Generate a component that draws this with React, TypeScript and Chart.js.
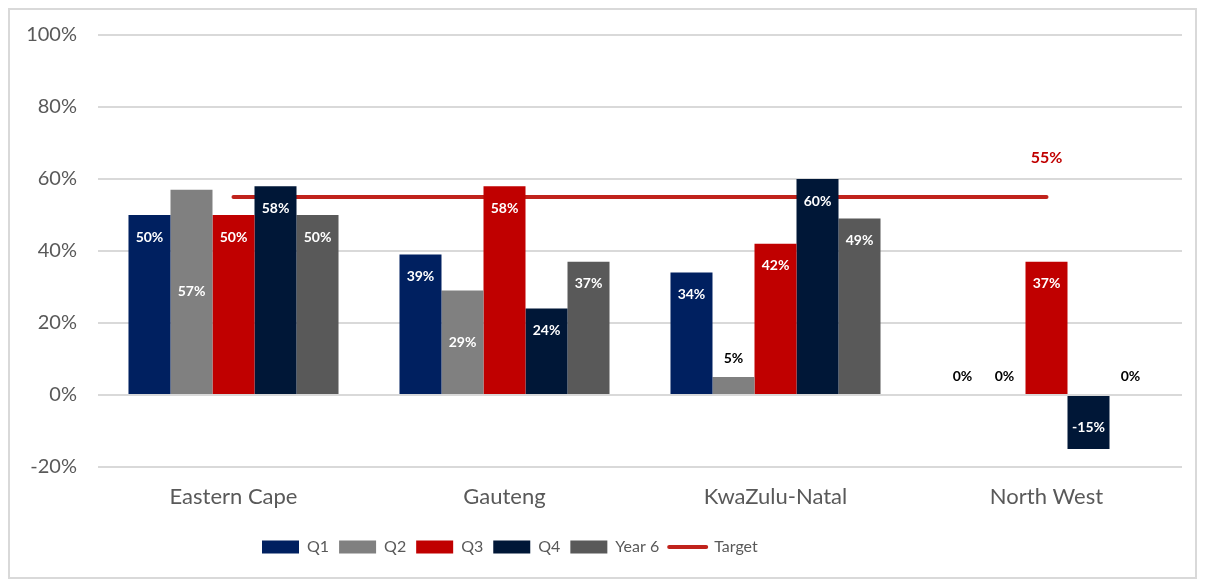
import React, { useEffect, useRef } from "react";
import { Chart, registerables } from "chart.js";

Chart.register(...registerables);

const categories = ["Eastern Cape", "Gauteng", "KwaZulu-Natal", "North West"];
const q1 = [50, 39, 34, 0];
const q2 = [57, 29, 5, 0];
const q3 = [50, 58, 42, 37];
const q4 = [58, 24, 60, -15];
const year6 = [50, 37, 49, 0];
const target = [55, 55, 55, 55];
const yTicks = [-20, 0, 20, 40, 60, 80, 100];

const seriesNames = ["Q1", "Q2", "Q3", "Q4", "Year 6", "Target"];
const colors = ["#002060", "#808080", "#C00000", "#001737", "#595959", "#C0231C"];
const labelAnchor = ["end", "center", "end", "end", "end"];

const FONT = "Lato, 'Gill Sans', 'Open Sans', sans-serif";

const labelPlugin = {
  id: "barLabels",
  afterLayout(chart: any) {
    if (chart.legend) {
      chart.legend.left = 242;
    }
  },
  afterDatasetsDraw(chart: any) {
    const ctx = chart.ctx;
    ctx.save();
    ctx.textAlign = "center";
    ctx.textBaseline = "middle";
    chart.data.datasets.forEach((ds: any, di: number) => {
      const meta = chart.getDatasetMeta(di);
      if (ds.type === "line") {
        const last = meta.data[meta.data.length - 1];
        ctx.font = `bold 16px ${FONT}`;
        ctx.fillStyle = "#C00000";
        ctx.fillText(ds.data[ds.data.length - 1] + "%", last.x, last.y - 39);
        return;
      }
      meta.data.forEach((bar: any, i: number) => {
        const v = ds.data[i];
        const txt = v + "%";
        ctx.font = `bold 14px ${FONT}`;
        const h = Math.abs(bar.base - bar.y);
        let y;
        if (h < 30) {
          ctx.fillStyle = "#000";
          y = Math.min(bar.y, bar.base) - 19;
        } else {
          ctx.fillStyle = "#fff";
          if (labelAnchor[di] === "center") y = (bar.y + bar.base) / 2;
          else y = v >= 0 ? bar.y + 22 : bar.y - 22;
        }
        ctx.fillText(txt, bar.x, y);
      });
    });
    ctx.restore();
  },
};

export default function App() {
  const ref = useRef<HTMLCanvasElement>(null);
  useEffect(() => {
    const seriesData = [q1, q2, q3, q4, year6];
    const datasets: any[] = seriesData.map((d, i) => ({
      type: "bar",
      label: seriesNames[i],
      data: d,
      backgroundColor: colors[i],
      borderWidth: 0,
      categoryPercentage: 0.775,
      barPercentage: 1,
    }));
    datasets.push({
      type: "line",
      label: seriesNames[5],
      data: target,
      borderColor: colors[5],
      backgroundColor: colors[5],
      borderWidth: 4,
      borderCapStyle: "round",
      pointRadius: 0,
      fill: false,
    });
    const chart = new Chart(ref.current!, {
      type: "bar",
      data: { labels: categories, datasets },
      plugins: [labelPlugin],
      options: {
        animation: false,
        responsive: true,
        maintainAspectRatio: false,
        layout: { padding: { top: 25, right: 13, left: 0, bottom: 12 } },
        plugins: {
          tooltip: { enabled: false },
          legend: {
            position: "bottom",
            align: "start",
            labels: {
              usePointStyle: true,
              pointStyleWidth: 37,
              boxHeight: 13,
              padding: 10,
              color: "#595959",
              font: { family: FONT, size: 16 },
              generateLabels: (c: any) =>
                c.data.datasets.map((ds: any, i: number) => ({
                  text: ds.label,
                  fillStyle: ds.type === "line" ? ds.borderColor : ds.backgroundColor,
                  strokeStyle: ds.type === "line" ? ds.borderColor : ds.backgroundColor,
                  lineWidth: ds.type === "line" ? 4 : 0,
                  lineCap: "round",
                  pointStyle: ds.type === "line" ? "line" : "rect",
                  fontColor: "#595959",
                  hidden: false,
                  datasetIndex: i,
                })),
            },
          },
        },
        scales: {
          x: {
            grid: { display: false },
            border: { display: false },
            afterFit: (s: any) => {
              s.height = 62;
            },
            ticks: { color: "#595959", font: { family: FONT, size: 22 }, padding: 9 },
          },
          y: {
            min: -20,
            max: 100,
            afterBuildTicks: (s: any) => {
              s.ticks = yTicks.map((v) => ({ value: v }));
            },
            afterFit: (s: any) => {
              s.width = 88;
              s.paddingTop = 0;
              s.paddingBottom = 0;
            },
            grid: { color: "#d9d9d9", lineWidth: 2, drawTicks: false },
            border: { display: false },
            ticks: {
              color: "#595959",
              padding: 21,
              font: { family: FONT, size: 20 },
              callback: (v: any) => v + "%",
            },
          },
        },
      },
    });
    return () => chart.destroy();
  }, []);
  return (
    <div
      style={{
        width: 1189,
        height: 571,
        border: "2px solid #d9d9d9",
        boxSizing: "border-box",
        position: "relative",
      }}
    >
      <canvas ref={ref} />
    </div>
  );
}
